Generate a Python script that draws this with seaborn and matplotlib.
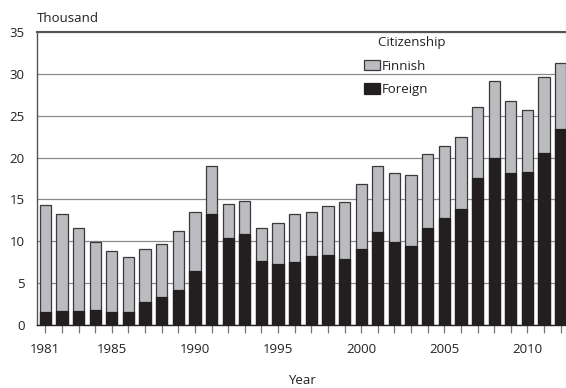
import matplotlib
matplotlib.use("Agg")
import matplotlib.pyplot as plt
import seaborn as sns
import pandas as pd
from matplotlib.patches import Patch

years = list(range(1981, 2013))
total = [14.3, 13.2, 11.6, 9.9, 8.8, 8.1, 9.1, 9.7, 11.2, 13.5,
         19.0, 14.5, 14.8, 11.6, 12.2, 13.3, 13.5, 14.2, 14.7, 16.9,
         19.0, 18.1, 17.9, 20.4, 21.4, 22.5, 26.1, 29.2, 26.8, 25.7,
         29.6, 31.3]
foreign = [1.6, 1.7, 1.7, 1.8, 1.55, 1.55, 2.8, 3.3, 4.2, 6.5,
           13.3, 10.4, 10.9, 7.6, 7.3, 7.5, 8.2, 8.4, 7.9, 9.1,
           11.1, 9.95, 9.4, 11.55, 12.8, 13.9, 17.6, 20.0, 18.2, 18.3,
           20.5, 23.4]
finnish = [t - f for t, f in zip(total, foreign)]
tick_years = [1981, 1985, 1990, 1995, 2000, 2005, 2010]
series_names = ["Finnish", "Foreign"]

sns.set_theme(style="white")
plt.rcParams["font.family"] = ["Open Sans", "DejaVu Sans"]
plt.rcParams["font.size"] = 9.5

df = pd.DataFrame({"Year": years, "Total": total, "Foreign": foreign, "Finnish": finnish})

GRAY = "#bbbcc0"
DARK = "#231f20"
EDGE = "#3a3a3a"

fig = plt.figure(figsize=(5.66, 3.88), dpi=100)
ax = fig.add_axes([37 / 566, (388 - 325) / 388, 1 - 37 / 566, (325 - 32) / 388])

sns.barplot(data=df, x="Year", y="Total", native_scale=True, color=GRAY,
            saturation=1, width=0.68, edgecolor=EDGE, linewidth=0.9, ax=ax, zorder=3)
sns.barplot(data=df, x="Year", y="Foreign", native_scale=True, color=DARK,
            saturation=1, width=0.68, edgecolor=DARK, linewidth=0.9, ax=ax, zorder=4)

ax.set_xlim(1980.5, 2012.32)
ax.set_ylim(0, 35)
ax.set_yticks(range(0, 36, 5))
ax.yaxis.grid(True, color="#8a8a8a", linewidth=0.9, zorder=0)
ax.set_axisbelow(True)

ax.set_xticks(years)
ax.set_xticklabels([str(y) if y in tick_years else "" for y in years])
ax.tick_params(axis="x", which="major", length=6, width=0.9, color="#777777",
               pad=7, labelsize=9.5, labelcolor="#222222", bottom=True)
ax.tick_params(axis="y", length=0, pad=9, labelsize=9.5, labelcolor="#222222")

ax.spines["right"].set_visible(False)
ax.spines["top"].set_color("#555555")
ax.spines["top"].set_linewidth(1.5)
ax.spines["left"].set_color("#555555")
ax.spines["left"].set_linewidth(1.0)
ax.spines["bottom"].set_color("#222222")
ax.spines["bottom"].set_linewidth(1.0)

ax.set_xlabel("Year", fontsize=9.5, color="#222222", labelpad=13)
ax.set_ylabel("")
fig.text(37 / 566, 1 - 18 / 388, "Thousand", ha="left", va="center",
         fontsize=9.5, color="#222222")

handles = [Patch(facecolor=GRAY, edgecolor=EDGE, linewidth=0.9),
           Patch(facecolor=DARK, edgecolor=DARK, linewidth=0.9)]
leg = ax.legend(handles, series_names, title="    Citizenship", loc="upper left",
                bbox_to_anchor=(364 / 566, 1 - 36 / 388), bbox_transform=fig.transFigure,
                frameon=False, borderpad=0, borderaxespad=0, handlelength=1.25,
                handleheight=0.8, handletextpad=0.1, labelspacing=0.8,
                alignment="left", fontsize=9.5, title_fontsize=9.5)
for t in leg.get_texts():
    t.set_color("#222222")
leg.get_title().set_color("#222222")

fig.savefig("out.png", dpi=100)
